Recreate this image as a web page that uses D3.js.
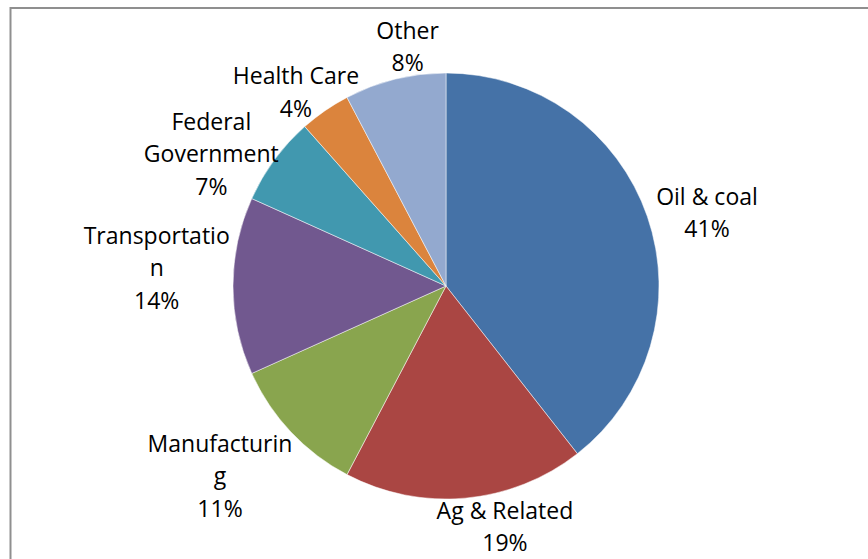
<!DOCTYPE html>
<html>
<head>
<meta charset="utf-8">
<script src="https://cdn.jsdelivr.net/npm/d3@7"></script>
<style>
  body { margin: 0; background: #fff; }
  svg { display: block; }
</style>
</head>
<body>
<div id="chart"></div>
<script>
const categories = ['Oil & coal', 'Ag & Related', 'Manufacturing', 'Transportation', 'Federal Government', 'Health Care', 'Other'];
const values = [41, 19, 11, 14, 7, 4, 8];
// label text as Excel wrapped it
const labelLines = [
    ['Oil & coal'],
    ['Ag & Related'],
    ['Manufacturin', 'g'],
    ['Transportatio', 'n'],
    ['Federal', 'Government'],
    ['Health Care'],
    ['Other']
];
const colors = ['#4572A7', '#AA4643', '#89A54E', '#71588F', '#4198AF', '#DB843D', '#93A9CF'];
// labels were nudged by hand in the original: angle shift (deg) and gap from the rim (px)
const labelTurn = [2.1, -6.9, 1.0, 4.1, -5.1, 0.3, 4.8];
const labelGap = [9, 0, 20, 4, -6, -10, -2];

function drawPie() {
    const width = 868, height = 559;
    const cx = 446, cy = 286, radius = 213;
    const lineGap = 32.5;

    const data = categories.map((c, i) => ({
        name: c, value: values[i], lines: labelLines[i], color: colors[i],
        turn: labelTurn[i], gap: labelGap[i]
    }));

    const svg = d3.select('#chart').append('svg')
      .attr('width', width)
      .attr('height', height);

    svg.append('rect')
      .attr('x', 10.5)
      .attr('y', 8)
      .attr('width', 1000)
      .attr('height', 1000)
      .attr('fill', '#fff')
      .attr('stroke', '#8f8f8f')
      .attr('stroke-width', 2);

    const pie = d3.pie().sort(null).value(d => d.value);
    const arc = d3.arc().innerRadius(0).outerRadius(radius);
    const arcs = pie(data);

    const g = svg.append('g')
      .attr('transform', `translate(${cx},${cy})`);

    g.selectAll('path')
      .data(arcs)
      .join('path')
      .attr('d', arc)
      .attr('fill', d => d.data.color)
      .attr('stroke', '#ffffff')
      .attr('stroke-width', 0.5);

    const labels = g.selectAll('text.label')
      .data(arcs)
      .join('text')
      .attr('class', 'label')
      .attr('font-family', '"Open Sans", sans-serif')
      .attr('font-size', 23)
      .attr('fill', '#000')
      .attr('text-anchor', 'middle');

    labels.each(function(d) {
        const t = d3.select(this);
        const lines = d.data.lines.concat([d.data.value + '%']);
        lines.forEach((l, i) => {
            t.append('tspan')
              .attr('x', 0)
              .attr('dy', i === 0 ? 0 : lineGap)
              .text(l);
        });
        // label box sits just outside the rim, like Excel's outside end
        const box = this.getBBox();
        const mid = (d.startAngle + d.endAngle) / 2 + d.data.turn * Math.PI / 180;
        const sx = Math.sin(mid), sy = -Math.cos(mid);
        const r = radius + d.data.gap;
        const px = r * sx + sx * box.width / 2;
        const py = r * sy + sy * box.height / 2;
        const dx = px - (box.x + box.width / 2);
        const dy = py - (box.y + box.height / 2);
        t.attr('transform', `translate(${dx},${dy})`);
    });
}

drawPie();
</script>
</body>
</html>
